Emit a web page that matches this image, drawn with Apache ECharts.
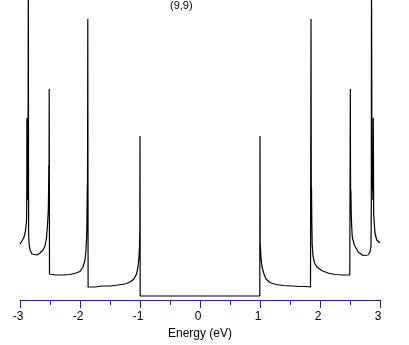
<!DOCTYPE html>
<html>
<head>
<meta charset="utf-8">
<script src="https://cdn.jsdelivr.net/npm/echarts@6/dist/echarts.min.js"></script>
<style>html,body{margin:0;padding:0;background:#fff;}#c{width:409px;height:345px;}</style>
</head>
<body>
<div id="c"></div>
<script>
// Energy (eV) sample points
var energy = [
  -3.0, -2.9667, -2.9333, -2.9083, -2.8917, -2.8867, -2.885, -2.8783, -2.8733, -2.8667,
  -2.8617, -2.8567, -2.85, -2.8333, -2.8, -2.7667, -2.7167, -2.6667, -2.6167, -2.5833,
  -2.5583, -2.5417, -2.5283, -2.5233, -2.52, -2.5167, -2.5133, -2.5083, -2.4167, -2.3,
  -2.1667, -2.0667, -2.0, -1.95, -1.9167, -1.9, -1.8883, -1.8833, -1.8783, -1.875,
  -1.87, -1.865, -1.8333, -1.75, -1.6333, -1.5, -1.3667, -1.25, -1.1667, -1.1,
  -1.0583, -1.0333, -1.0167, -1.0083, -1.0033, -1.0, -0.9967, -0.5, 0.0, 0.5,
  0.9967, 1.0, 1.0033, 1.0167, 1.0333, 1.0667, 1.1, 1.1667, 1.2667, 1.3833,
  1.5333, 1.6667, 1.7667, 1.8417, 1.85, 1.855, 1.8583, 1.8633, 1.87, 1.8833,
  1.9083, 1.95, 2.0333, 2.1333, 2.25, 2.3833, 2.4967, 2.505, 2.51, 2.515,
  2.52, 2.5283, 2.5383, 2.5717, 2.6383, 2.7167, 2.8, 2.8333, 2.85, 2.855,
  2.8583, 2.8667, 2.875, 2.8833, 2.8883, 2.895, 2.9167, 2.945, 3.0
];
// Density of states (arbitrary units)
var dos = [
  56, 59, 63, 69, 78, 100, 182, 105, 115, 100,
  340, 70, 57, 50, 46, 45, 45, 47, 50, 54,
  62, 75, 90, 110, 135, 100, 211, 26, 25, 25,
  25.5, 27, 28.5, 33, 40, 50, 65, 85, 115, 100,
  281, 13, 13, 13, 14, 14, 15, 16, 18, 21,
  26, 33, 43, 53, 70, 164, 4, 4, 4, 4,
  4, 164, 57, 42, 33, 26, 21, 17.5, 15.5, 14.5,
  14, 13.5, 13.5, 13, 281, 100, 113, 80, 55, 44,
  37, 33, 29.3, 27, 25.5, 25, 25, 211, 100, 110,
  87, 73, 63, 55, 48, 44.5, 45, 48, 54, 95,
  340, 110, 120, 100, 182, 85, 67, 60, 57
];
var xTicks = [-3, -2, -1, 0, 1, 2, 3];
var titleText = '(9,9)';
var xName = 'Energy (eV)';

var points = energy.map(function (e, i) { return [e, dos[i]]; });
var blue = '#2020aa';
var chart = echarts.init(document.getElementById('c'), null, {renderer: 'canvas'});
chart.setOption({
  animation: false,
  backgroundColor: '#fff',
  title: {
    text: titleText, left: 170, top: 0, padding: 0,
    textStyle: {fontFamily: 'Liberation Sans', fontSize: 11, fontWeight: 'normal', color: '#000'}
  },
  grid: {left: 20, right: 29, top: 0, bottom: 45},
  xAxis: {
    type: 'value', min: xTicks[0], max: xTicks[xTicks.length - 1], interval: 1,
    name: xName, nameLocation: 'middle', nameGap: 27,
    nameTextStyle: {fontFamily: 'Liberation Sans', fontSize: 12, color: '#000'},
    axisLine: {show: true, lineStyle: {color: blue, width: 1}},
    axisTick: {show: true, length: 8, lineStyle: {color: blue, width: 1}},
    minorTick: {show: true, splitNumber: 2, length: 5, lineStyle: {color: blue, width: 1}},
    splitLine: {show: false},
    axisLabel: {fontFamily: 'Liberation Sans', fontSize: 12, color: '#000', margin: 11, padding: [0, 4, 0, 0]}
  },
  yAxis: {type: 'value', min: 0, max: 300, show: false},
  series: [{
    type: 'line', data: points, showSymbol: false, clip: true,
    lineStyle: {color: '#000', width: 1.2}
  }]
});
</script>
</body>
</html>
